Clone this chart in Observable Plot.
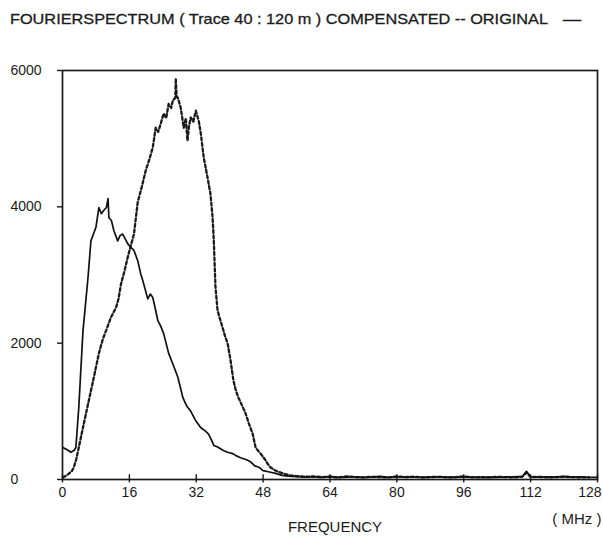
<!DOCTYPE html>
<html>
<head>
<meta charset="utf-8">
<script src="https://cdn.jsdelivr.net/npm/d3@7"></script>
<script src="https://cdn.jsdelivr.net/npm/@observablehq/plot@0.6"></script>
<style>
  html, body { margin: 0; padding: 0; background: #fff; }
  #title { display: block; }
  #chart svg { display: block; }
</style>
</head>
<body>
<svg id="title" width="603" height="48" xmlns="http://www.w3.org/2000/svg">
  <text x="10" y="24" font-family="Liberation Sans, Arial, sans-serif" font-size="15" fill="#1a1a1a" stroke="#1a1a1a" stroke-width="0.3" textLength="538" lengthAdjust="spacingAndGlyphs">FOURIERSPECTRUM ( Trace 40 : 120 m ) COMPENSATED -- ORIGINAL</text>
  <text x="563" y="24" font-family="Liberation Sans, Arial, sans-serif" font-size="15" fill="#1a1a1a" stroke="#1a1a1a" stroke-width="0.5" textLength="18" lengthAdjust="spacingAndGlyphs">—</text>
</svg>
<div id="chart"></div>
<script>
// Tick labels
const xTicks = [0, 16, 32, 48, 64, 80, 96, 112, 128];
const yTicks = [0, 2000, 4000, 6000];

// ORIGINAL (solid)
const origFreq = [0.1, 1.0, 2.0, 2.8, 3.2, 3.9, 4.9, 6.1, 6.8, 8.0, 8.7, 9.3, 9.9, 10.5, 10.9, 11.1, 11.7, 12.3, 13.2, 13.8, 14.4, 15.6, 16.4, 17.1, 18.0, 18.7, 19.2, 20.4, 21.0, 21.6, 22.3, 22.8, 23.5, 24.2, 25.4, 26.5, 27.6, 28.8, 29.7, 30.6, 31.8, 33.1, 34.0, 34.9, 35.5, 36.2, 37.0, 38.5, 39.5, 40.7, 41.5, 42.6, 44.0, 45.0, 46.0, 47.0, 48.0, 49.5, 51.0, 52.5, 54.0, 56, 58, 60, 62, 64, 66, 68, 70, 72, 74, 76, 78, 80, 82, 84, 86, 88, 90, 92, 94, 96, 98, 100, 102, 104, 106, 108, 110, 111, 112, 114, 116, 118, 120, 122, 124, 126, 128];
const origVal = [470, 440, 400, 430, 470, 1060, 2180, 2960, 3500, 3700, 3990, 3900, 3950, 3990, 4120, 3840, 3800, 3650, 3500, 3580, 3600, 3460, 3400, 3360, 3210, 3020, 2920, 2650, 2720, 2670, 2480, 2330, 2250, 2140, 1850, 1680, 1500, 1200, 1080, 1010, 870, 760, 720, 670, 600, 500, 480, 425, 400, 380, 350, 320, 290, 260, 200, 180, 130, 110, 90, 60, 50, 40, 35, 40, 30, 45, 30, 35, 40, 30, 35, 45, 30, 40, 35, 40, 30, 35, 40, 35, 30, 40, 35, 30, 35, 30, 35, 40, 45, 120, 40, 35, 40, 35, 45, 35, 40, 30, 30];

// COMPENSATED (dashed)
const compFreq = [0.1, 1.0, 1.6, 2.2, 2.7, 3.3, 3.9, 5.1, 6.3, 7.5, 8.7, 9.6, 10.4, 11.6, 12.8, 13.4, 14.0, 14.8, 15.6, 16.3, 17.1, 18.0, 19.0, 19.9, 20.8, 21.6, 22.3, 22.9, 23.5, 24.2, 24.8, 25.4, 26.0, 26.4, 27.0, 27.1, 27.3, 27.6, 28.3, 29.0, 29.5, 29.9, 30.3, 30.7, 31.3, 31.9, 32.6, 33.1, 33.8, 34.7, 35.4, 35.9, 36.2, 36.6, 37.1, 37.7, 38.3, 38.9, 39.5, 40.2, 40.9, 41.5, 42.1, 43.0, 43.8, 44.6, 45.5, 46.2, 46.8, 47.4, 48.0, 48.6, 49.2, 49.8, 51.0, 52.2, 53.3, 54.5, 56, 58, 60, 62, 64, 66, 68, 70, 72, 74, 76, 78, 80, 82, 84, 86, 88, 90, 92, 94, 96, 98, 100, 102, 104, 106, 108, 110, 111, 112, 114, 116, 118, 120, 122, 124, 126, 128];
const compVal = [30, 60, 90, 120, 175, 300, 470, 820, 1160, 1500, 1850, 2050, 2180, 2380, 2520, 2650, 2870, 3050, 3260, 3420, 3600, 4070, 4300, 4530, 4700, 4870, 5160, 5100, 5220, 5370, 5300, 5510, 5450, 5560, 5600, 5880, 5620, 5600, 5450, 5160, 5300, 4970, 5200, 5310, 5250, 5410, 5260, 5070, 4720, 4430, 4190, 3850, 3500, 2820, 2480, 2350, 2230, 2100, 2000, 1750, 1450, 1300, 1200, 1080, 970, 820, 670, 470, 420, 380, 330, 280, 220, 175, 130, 100, 80, 60, 50, 40, 45, 35, 40, 30, 45, 35, 30, 40, 35, 30, 45, 35, 40, 30, 35, 40, 30, 35, 45, 30, 35, 30, 40, 35, 30, 40, 100, 35, 40, 30, 35, 40, 35, 30, 30];

const orig = origFreq.map((f, i) => ({f, v: origVal[i]}));
const comp = compFreq.map((f, i) => ({f, v: compVal[i]}));

const font = "'Liberation Sans', Arial, sans-serif";
const lastTick = xTicks[xTicks.length - 1];

const chart = Plot.plot({
  width: 603,
  height: 491,
  marginTop: 22,
  marginBottom: 60,
  marginLeft: 62,
  marginRight: 6,
  style: {fontFamily: font, fontSize: "14px", color: "#1a1a1a", background: "#fff"},
  x: {domain: [0, 128]},
  y: {domain: [0, 6000]},
  marks: [
    Plot.frame({stroke: "#1a1a1a", strokeWidth: 1.7}),
    Plot.axisY({ticks: yTicks, tickSize: 5, tickPadding: 47, textAnchor: "start", tickFormat: d3.format("d"), label: null, strokeWidth: 1.4}),
    Plot.axisX({ticks: xTicks.filter(t => t !== lastTick), tickSize: 0, tickPadding: 8, tickFormat: d3.format("d"), label: null}),
    Plot.axisX({ticks: [lastTick], tickSize: 0, tickPadding: 8, tickFormat: d3.format("d"), label: null, textAnchor: "end", dx: 4}),
    Plot.ruleX(xTicks, {x: d => d, y1: -50, y2: 70, stroke: "#1a1a1a", strokeWidth: 1.4}),
    Plot.line(comp, {x: "f", y: "v", stroke: "#1a1a1a", strokeWidth: 2.3, strokeDasharray: "3,2.5"}),
    Plot.line(orig, {x: "f", y: "v", stroke: "#111", strokeWidth: 1.7}),
    Plot.text(["FREQUENCY"], {frameAnchor: "bottom", text: d => d, dx: 5, dy: 52, fill: "#1a1a1a", fontSize: 15}),
    Plot.text(["( MHz )"], {frameAnchor: "bottom-right", text: d => d, textAnchor: "end", dx: 4, dy: 44, fill: "#1a1a1a", fontSize: 15})
  ]
});
document.getElementById("chart").append(chart);
</script>
</body>
</html>
